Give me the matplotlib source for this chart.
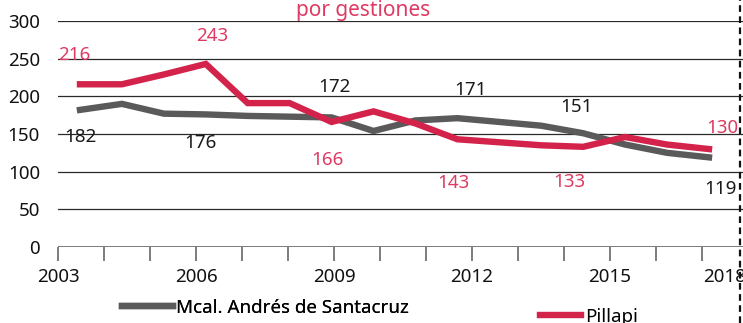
import matplotlib
matplotlib.use("Agg")
import matplotlib.pyplot as plt
import matplotlib.transforms as mtransforms
from matplotlib.ticker import FixedLocator, NullLocator

# Series (annual values, 2003-2018)
years = list(range(2003, 2019))
mcal = [182, 190, 177, 176, 174, 173, 172, 154, 168, 171, 166, 161, 151, 136, 125, 119]
pillapi = [216, 216, 229, 243, 191, 191, 166, 180, 164, 143, 139, 135, 133, 146, 136, 130]
series_names = ["Mcal. Andrés de Santacruz", "Pillapi"]

# Years that carry a data label
label_years = [2003, 2006, 2009, 2012, 2015, 2018]
y_ticks = [0, 50, 100, 150, 200, 250, 300]
x_label_years = [2003, 2006, 2009, 2012, 2015, 2018]
title_text = "por gestiones"

RED = "#D3234B"
RED_TXT = "#DF3A62"
GRAY = "#5A5A5A"
FONT = ["Noto Sans", "DejaVu Sans"]

plt.rcParams["font.family"] = FONT

W, H = 743, 323
fig = plt.figure(figsize=(W / 100, H / 100), dpi=100)

def fx(px):
    return px / W

def fy(py):
    return 1 - py / H

# plot frame: year axis 2003..2018 spans pixels 58..748, values 0..300 span 247..21
left, right, top, bottom = 58, 748, 21, 247
ax = fig.add_axes([fx(left), fy(bottom), fx(right) - fx(left), fy(top) - fy(bottom)])
ax.set_xlim(2003, 2018)
ax.set_ylim(0, 300)
for s in ax.spines.values():
    s.set_visible(False)

# horizontal grid
for v in y_ticks[1:]:
    ax.axhline(v, color="#2a2a2a", lw=0.9, zorder=1)
ax.axhline(0, color="#666666", lw=1.2, zorder=1)

ax.yaxis.set_major_locator(FixedLocator(y_ticks))
ax.tick_params(axis="y", length=0, pad=13, labelsize=13.5, labelcolor="#111111")
ax.xaxis.set_major_locator(FixedLocator(years))
ax.set_xticklabels([str(y) if y in x_label_years else "" for y in years])
ax.tick_params(axis="x", direction="out", length=10, width=1.2, color="#666666",
               pad=5, labelsize=13.5, labelcolor="#111111")
last = ax.get_xticklabels()[-1]
last.set_ha("right")
last.set_transform(last.get_transform() +
                   mtransforms.ScaledTranslation(-2 / 100, 0, fig.dpi_scale_trans))

# data axis: points sit evenly between pixel 80 (2003) and 709 (2018)
d0, d1 = 80, 709
step = (d1 - d0) / (years[-1] - years[0])
dax = ax.twiny()
dax.set_xlim(years[0] - (d0 - left) / step, years[0] + (right - d0) / step)
dax.set_ylim(0, 300)
dax.xaxis.set_major_locator(NullLocator())
for s in dax.spines.values():
    s.set_visible(False)
dax.patch.set_visible(False)

lg, = dax.plot(years, mcal, color=GRAY, lw=4.6, solid_joinstyle="miter", zorder=3)
lr, = dax.plot(years, pillapi, color=RED, lw=4.6, solid_joinstyle="miter", zorder=4)

# data labels, offsets in pixels from each point
red_off = [(-6, 29), (6, 28), (-4, -38), (-4, -44), (-14, -35), (13, 21)]
gray_off = [(0, -27), (-5, -29), (3, 30), (13, 28), (-7, 26), (11, -32)]
for yr, (ox, oy) in zip(label_years, red_off):
    v = pillapi[years.index(yr)]
    dax.annotate(str(v), (yr, v), xytext=(ox, oy), textcoords="offset pixels",
                 ha="center", va="center", fontsize=13.5, color=RED_TXT, zorder=5)
for yr, (ox, oy) in zip(label_years, gray_off):
    v = mcal[years.index(yr)]
    dax.annotate(str(v), (yr, v), xytext=(ox, oy), textcoords="offset pixels",
                 ha="center", va="center", fontsize=13.5, color="#1a1a1a", zorder=5)

# title, partially above the frame
fig.text(fx(363), fy(16), title_text, ha="center", va="baseline",
         fontsize=15, color=RED_TXT)

# dashed vertical rule at the right edge
fig.add_artist(plt.Line2D([fx(740), fx(740)], [0, 1], transform=fig.transFigure,
                          color="#111111", lw=1.6, ls=(0, (3, 2))))

# legends
leg1 = fig.legend([lg], [series_names[0]], loc="center left",
                  bbox_to_anchor=(fx(122), fy(308)), frameon=False, fontsize=13.5,
                  handlelength=2.7, handletextpad=0.2, borderpad=0, borderaxespad=0)
leg2 = fig.legend([lr], [series_names[1]], loc="center left",
                  bbox_to_anchor=(fx(540), fy(317)), frameon=False, fontsize=13.5,
                  handlelength=2.2, handletextpad=0.2, borderpad=0, borderaxespad=0)
fig.add_artist(leg1)

fig.savefig("out.png", dpi=100)
